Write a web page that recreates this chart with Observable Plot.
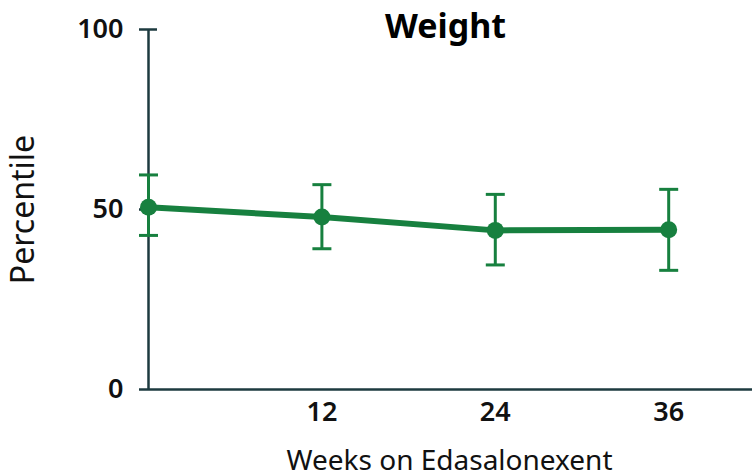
<!DOCTYPE html>
<html>
<head>
<meta charset="utf-8">
<script src="https://cdn.jsdelivr.net/npm/d3@7"></script>
<script src="https://cdn.jsdelivr.net/npm/@observablehq/plot@0.6"></script>
<style>
  html, body { margin: 0; padding: 0; background: #fff; }
  svg { font-family: "Noto Sans", sans-serif; }
</style>
</head>
<body>
<div id="chart"></div>
<script>
const weeks = [0, 12, 24, 36];
const mean  = [50.6, 47.9, 44.2, 44.4];
const upper = [59.6, 56.9, 54.2, 55.6];
const lower = [42.8, 39.1, 34.6, 33.1];
const xTicks = [12, 24, 36];
const yTicks = [0, 50, 100];
const title = "Weight";
const xLabel = "Weeks on Edasalonexent";
const yLabel = "Percentile";

const data = weeks.map((w, i) => ({week: w, mean: mean[i], lo: lower[i], hi: upper[i]}));

const green = "#17803f";
const axisColor = "#1d3a3f";

const capSymbol = {
  draw(ctx, size) {
    const w = Math.sqrt(size / Math.PI);
    ctx.moveTo(-w, 0);
    ctx.lineTo(w, 0);
  }
};

const chart = Plot.plot({
  width: 752,
  height: 475,
  marginLeft: 148,
  marginRight: 0,
  marginTop: 29,
  marginBottom: 86,
  style: {fontFamily: "Noto Sans, sans-serif", background: "#fff"},
  x: {domain: [0, 41.8], axis: null},
  y: {domain: [0, 100], axis: null},
  marks: [
    Plot.ruleY([0], {stroke: axisColor, strokeWidth: 2.5}),
    Plot.ruleX([0], {stroke: axisColor, strokeWidth: 2.5}),
    Plot.axisY({ticks: yTicks, tickSize: 9, tickPadding: 16, stroke: axisColor, strokeWidth: 2.5, fontSize: 27, fontWeight: 600, fill: "#111", label: null}),
    Plot.axisY({ticks: [yTicks[2]], tickSize: 9, dx: 9, tickFormat: () => "", stroke: axisColor, strokeWidth: 2.5, label: null}),
    Plot.axisX({ticks: xTicks, tickSize: 0, tickPadding: 12, fontSize: 27, fontWeight: 600, fill: "#111", label: null}),
    Plot.ruleX(data, {x: "week", y1: "lo", y2: "hi", stroke: green, strokeWidth: 3}),
    Plot.dot(data, {x: "week", y: "lo", symbol: capSymbol, r: 9.5, stroke: green, strokeWidth: 3}),
    Plot.dot(data, {x: "week", y: "hi", symbol: capSymbol, r: 9.5, stroke: green, strokeWidth: 3}),
    Plot.line(data, {x: "week", y: "mean", stroke: green, strokeWidth: 6}),
    Plot.dot(data, {x: "week", y: "mean", r: 8.5, fill: green}),
    Plot.text([title], {frameAnchor: "top", lineAnchor: "bottom", dx: -5, dy: 8, fontSize: 34, fontWeight: "bold", fill: "#000"}),
    Plot.text([yLabel], {frameAnchor: "left", textAnchor: "middle", rotate: -90, dx: -125, fontSize: 32, fill: "#111"}),
    Plot.text([xLabel], {frameAnchor: "bottom", lineAnchor: "middle", dx: -1, dy: 72, fontSize: 28, fill: "#111"})
  ]
});
document.getElementById("chart").appendChild(chart);
</script>
</body>
</html>
